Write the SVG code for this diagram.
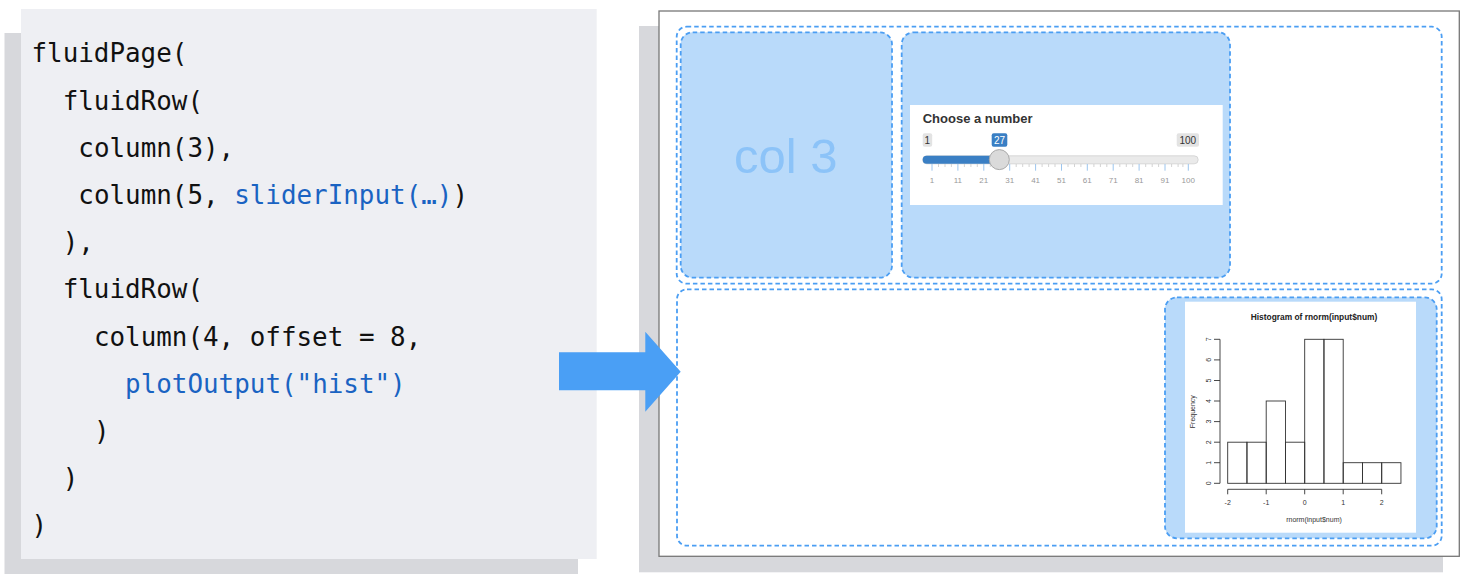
<svg xmlns="http://www.w3.org/2000/svg" width="1468" height="582" viewBox="0 0 1468 582">
<defs>
<style>
.code{font-family:"DejaVu Sans Mono","Liberation Mono",monospace;font-size:25.9px;fill:#111}
.fn{fill:#1a63c2}
.dash{fill:none;stroke:#4b9ef3;stroke-width:1.8;stroke-dasharray:4.5 3}
.col{fill:#b9dafa;stroke:#4b9ef3;stroke-width:1.8;stroke-dasharray:4.5 3}
.sans{font-family:"Liberation Sans",Arial,sans-serif}
.tick{font-family:"Liberation Sans",Arial,sans-serif;font-size:8px;fill:#999;text-anchor:middle}
.hl{font-family:"Liberation Sans",Arial,sans-serif;font-size:7px;fill:#333}
.bar{fill:none;stroke:#333;stroke-width:0.9}
</style>
</defs>
<rect width="1468" height="582" fill="#fff"/>

<g id="code-panel">
<rect x="4.5" y="33" width="573.5" height="541" fill="#d7d8dc"/>
<rect x="21" y="9" width="575.7" height="550" fill="#eeeff3"/>
<text class="code" x="31.5" y="62.3">fluidPage(</text>
<text class="code" x="62.7" y="109.5">fluidRow(</text>
<text class="code" x="78.3" y="156.7">column(3),</text>
<text class="code" x="78.3" y="203.9">column(5, <tspan class="fn">sliderInput(…)</tspan>)</text>
<text class="code" x="62.7" y="251.1">),</text>
<text class="code" x="62.7" y="298.3">fluidRow(</text>
<text class="code" x="93.9" y="345.5">column(4, offset = 8,</text>
<text class="code fn" x="125.1" y="392.7">plotOutput("hist")</text>
<text class="code" x="93.9" y="439.9">)</text>
<text class="code" x="62.7" y="487.1">)</text>
<text class="code" x="31.5" y="534.3">)</text>
</g>

<g id="app-frame">
<rect x="639" y="26" width="804" height="546.3" fill="#d7d8dc"/>
<rect x="659" y="11" width="800.3" height="545.3" fill="#fff" stroke="#777" stroke-width="1.3"/>
</g>

<g id="row1">
<rect class="dash" x="676.7" y="26.7" width="765" height="257" rx="10"/>
</g>

<g id="col3">
<rect class="col" x="680.7" y="32.3" width="211.3" height="245.4" rx="12"/>
<text class="sans" x="785.7" y="173" font-size="49" fill="#8cc3f8" text-anchor="middle">col 3</text>
</g>

<g id="col5-slider">
<rect class="col" x="901.7" y="32.3" width="328.3" height="245.4" rx="12"/>
<rect x="910" y="105" width="312.7" height="100" fill="#fff"/>
<text class="sans" x="922.7" y="123.3" font-size="13" font-weight="bold" fill="#333">Choose a number</text>
<rect x="922.7" y="133.3" width="9.5" height="13.4" rx="2" fill="#e3e3e3"/>
<text class="sans" x="927.4" y="143.8" font-size="10" fill="#333" text-anchor="middle">1</text>
<rect x="991.7" y="133.3" width="15.6" height="13.4" rx="2" fill="#3a7fc4"/>
<text class="sans" x="999.5" y="143.8" font-size="10" fill="#fff" text-anchor="middle">27</text>
<rect x="1176.7" y="133.3" width="22.3" height="13.4" rx="2" fill="#e3e3e3"/>
<text class="sans" x="1187.8" y="143.8" font-size="10" fill="#333" text-anchor="middle">100</text>
<rect x="922.7" y="155.8" width="275.5" height="8" rx="4" fill="#eaeaea" stroke="#cfcfcf" stroke-width="0.8"/>
<rect x="922.7" y="155.8" width="77" height="8" rx="4" fill="#3a7fc4"/>
<g stroke="#c8c8c8" stroke-width="0.8">
<path d="M938.5 164v3M945 164v3M951.4 164v3M964.4 164v3M970.9 164v3M977.3 164v3M990.3 164v3M996.8 164v3M1003.2 164v3M1016.2 164v3M1022.7 164v3M1029.1 164v3M1042.1 164v3M1048.6 164v3M1055 164v3M1068 164v3M1074.5 164v3M1080.9 164v3M1093.9 164v3M1100.4 164v3M1106.8 164v3M1119.8 164v3M1126.3 164v3M1132.7 164v3M1145.7 164v3M1152.2 164v3M1158.6 164v3M1171.6 164v3M1178.1 164v3M1182.9 164v3"/>
</g>
<g stroke="#9cc5ee" stroke-width="1">
<path d="M932 164v6.7M957.9 164v6.7M983.8 164v6.7M1009.7 164v6.7M1035.6 164v6.7M1061.5 164v6.7M1087.3 164v6.7M1113.2 164v6.7M1139.1 164v6.7M1165 164v6.7M1188.3 164v6.7"/>
</g>
<text class="tick" x="932" y="183.3">1</text>
<text class="tick" x="957.9" y="183.3">11</text>
<text class="tick" x="983.8" y="183.3">21</text>
<text class="tick" x="1009.7" y="183.3">31</text>
<text class="tick" x="1035.6" y="183.3">41</text>
<text class="tick" x="1061.5" y="183.3">51</text>
<text class="tick" x="1087.3" y="183.3">61</text>
<text class="tick" x="1113.2" y="183.3">71</text>
<text class="tick" x="1139.1" y="183.3">81</text>
<text class="tick" x="1165" y="183.3">91</text>
<text class="tick" x="1188.3" y="183.3">100</text>
<circle cx="999.3" cy="159.6" r="10" fill="#dadada" stroke="#a8a8a8" stroke-width="1"/>
</g>

<g id="row2">
<rect class="dash" x="677" y="289.3" width="764.7" height="256.4" rx="10"/>
</g>

<g id="col4-plot">
<rect class="col" x="1165" y="297.3" width="271.7" height="241" rx="12"/>
<rect x="1185" y="301.7" width="231" height="231" fill="#fff"/>
<text class="sans" x="1314" y="320" font-size="8.4" font-weight="bold" fill="#222" text-anchor="middle">Histogram of rnorm(input$num)</text>
<g stroke="#333" stroke-width="0.9" fill="none">
<path d="M1220 483.3V339.3M1220 483.3h-6M1220 462.7h-6M1220 442.2h-6M1220 421.6h-6M1220 401h-6M1220 380.5h-6M1220 359.9h-6M1220 339.3h-6"/>
<path d="M1227.7 489.3H1381.7M1227.7 489.3v5M1266.2 489.3v5M1304.7 489.3v5M1343.2 489.3v5M1381.7 489.3v5"/>
</g>
<g class="hl" text-anchor="middle">
<text transform="translate(1211 483.3) rotate(-90)">0</text>
<text transform="translate(1211 462.7) rotate(-90)">1</text>
<text transform="translate(1211 442.2) rotate(-90)">2</text>
<text transform="translate(1211 421.6) rotate(-90)">3</text>
<text transform="translate(1211 401) rotate(-90)">4</text>
<text transform="translate(1211 380.5) rotate(-90)">5</text>
<text transform="translate(1211 359.9) rotate(-90)">6</text>
<text transform="translate(1211 339.3) rotate(-90)">7</text>
<text transform="translate(1194.5 411.7) rotate(-90)">Frequency</text>
<text x="1227.7" y="505">-2</text>
<text x="1266.2" y="505">-1</text>
<text x="1304.7" y="505">0</text>
<text x="1343.2" y="505">1</text>
<text x="1381.7" y="505">2</text>
<text x="1314" y="521.7">rnorm(input$num)</text>
</g>
<rect class="bar" x="1227.7" y="442.2" width="19.25" height="41.1"/>
<rect class="bar" x="1246.95" y="442.2" width="19.25" height="41.1"/>
<rect class="bar" x="1266.2" y="401" width="19.25" height="82.3"/>
<rect class="bar" x="1285.45" y="442.2" width="19.25" height="41.1"/>
<rect class="bar" x="1304.7" y="339.3" width="19.25" height="144"/>
<rect class="bar" x="1323.95" y="339.3" width="19.25" height="144"/>
<rect class="bar" x="1343.2" y="462.7" width="19.25" height="20.6"/>
<rect class="bar" x="1362.45" y="462.7" width="19.25" height="20.6"/>
<rect class="bar" x="1381.7" y="462.7" width="19.25" height="20.6"/>
</g>

<g id="connectors">
<polygon points="559,352.3 645.3,352.3 645.3,331.7 680.7,371.7 645.3,411.7 645.3,390.3 559,390.3" fill="#4a9ff5"/>
</g>
</svg>
